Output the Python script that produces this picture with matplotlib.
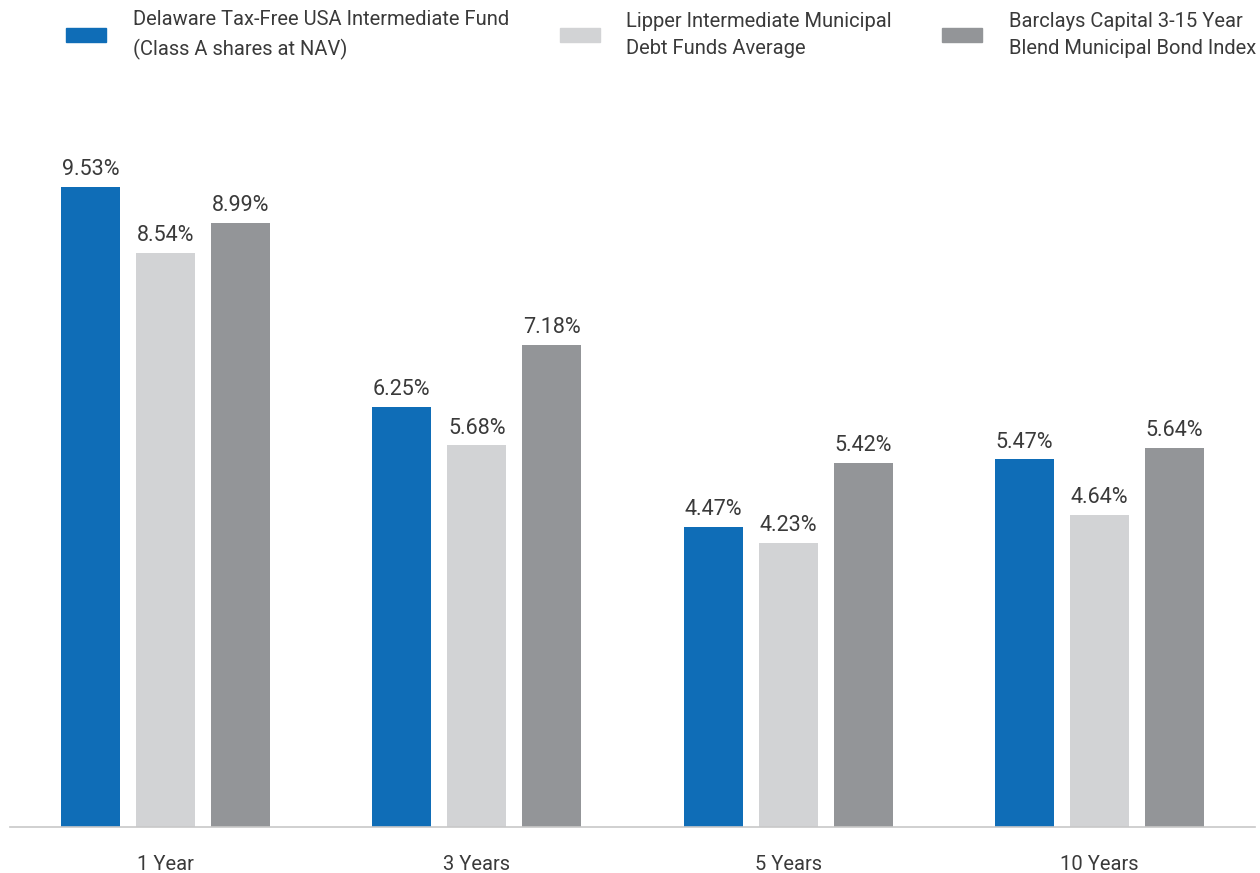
import numpy as np
import matplotlib
matplotlib.use("Agg")
import matplotlib.pyplot as plt
from matplotlib.patches import Rectangle

# Average annual total returns
periods = ["1 Year", "3 Years", "5 Years", "10 Years"]
fund = [9.53, 6.25, 4.47, 5.47]
lipper = [8.54, 5.68, 4.23, 4.64]
barclays = [8.99, 7.18, 5.42, 5.64]

series_names = [
    "Delaware Tax-Free USA Intermediate Fund\n(Class A shares at NAV)",
    "Lipper Intermediate Municipal\nDebt Funds Average",
    "Barclays Capital 3-15 Year\nBlend Municipal Bond Index",
]
colors = ["#0f6db7", "#d2d3d5", "#939598"]
text_color = "#3a3a3a"

plt.rcParams["font.family"] = ["Roboto", "DejaVu Sans"]
FS = 14.5

W, H = 1260, 873
fig = plt.figure(figsize=(W / 100, H / 100), dpi=100)
ax = fig.add_axes([10 / W, (H - 827) / H, 1245 / W, (827 - 100) / H])

x = np.arange(len(periods))
width = 0.19
offs = [-0.241, 0.0, 0.241]
for vals, off, c in zip([fund, lipper, barclays], offs, colors):
    bars = ax.bar(x + off, vals, width, color=c, zorder=2)
    for b, v in zip(bars, vals):
        ax.text(b.get_x() + b.get_width() / 2, v + 0.1, f"{v:.2f}%",
                ha="center", va="bottom", fontsize=15.5, color=text_color)

ax.set_xlim(-0.5, 3.5)
ax.set_ylim(0, (827 - 100) / 67.2)
ax.set_xticks(x)
ax.set_xticklabels(periods, fontsize=FS, color=text_color)
ax.tick_params(axis="x", length=0, pad=20)
ax.set_yticks([])
for s in ["top", "right", "left"]:
    ax.spines[s].set_visible(False)
ax.spines["bottom"].set_color("#c8c8c8")
ax.spines["bottom"].set_linewidth(1.2)

# legend drawn across the top
patch_x = [66, 560, 942]
text_x = [133, 626, 1009]
for px, tx, c, name in zip(patch_x, text_x, colors, series_names):
    fig.patches.append(Rectangle((px / W, (H - 42) / H), 40 / W, 14 / H,
                                 transform=fig.transFigure, color=c))
    fig.text(tx / W, (H - 35) / H, name, ha="left", va="center",
             fontsize=FS, color=text_color, linespacing=1.55)

fig.savefig("out.png", dpi=100)
